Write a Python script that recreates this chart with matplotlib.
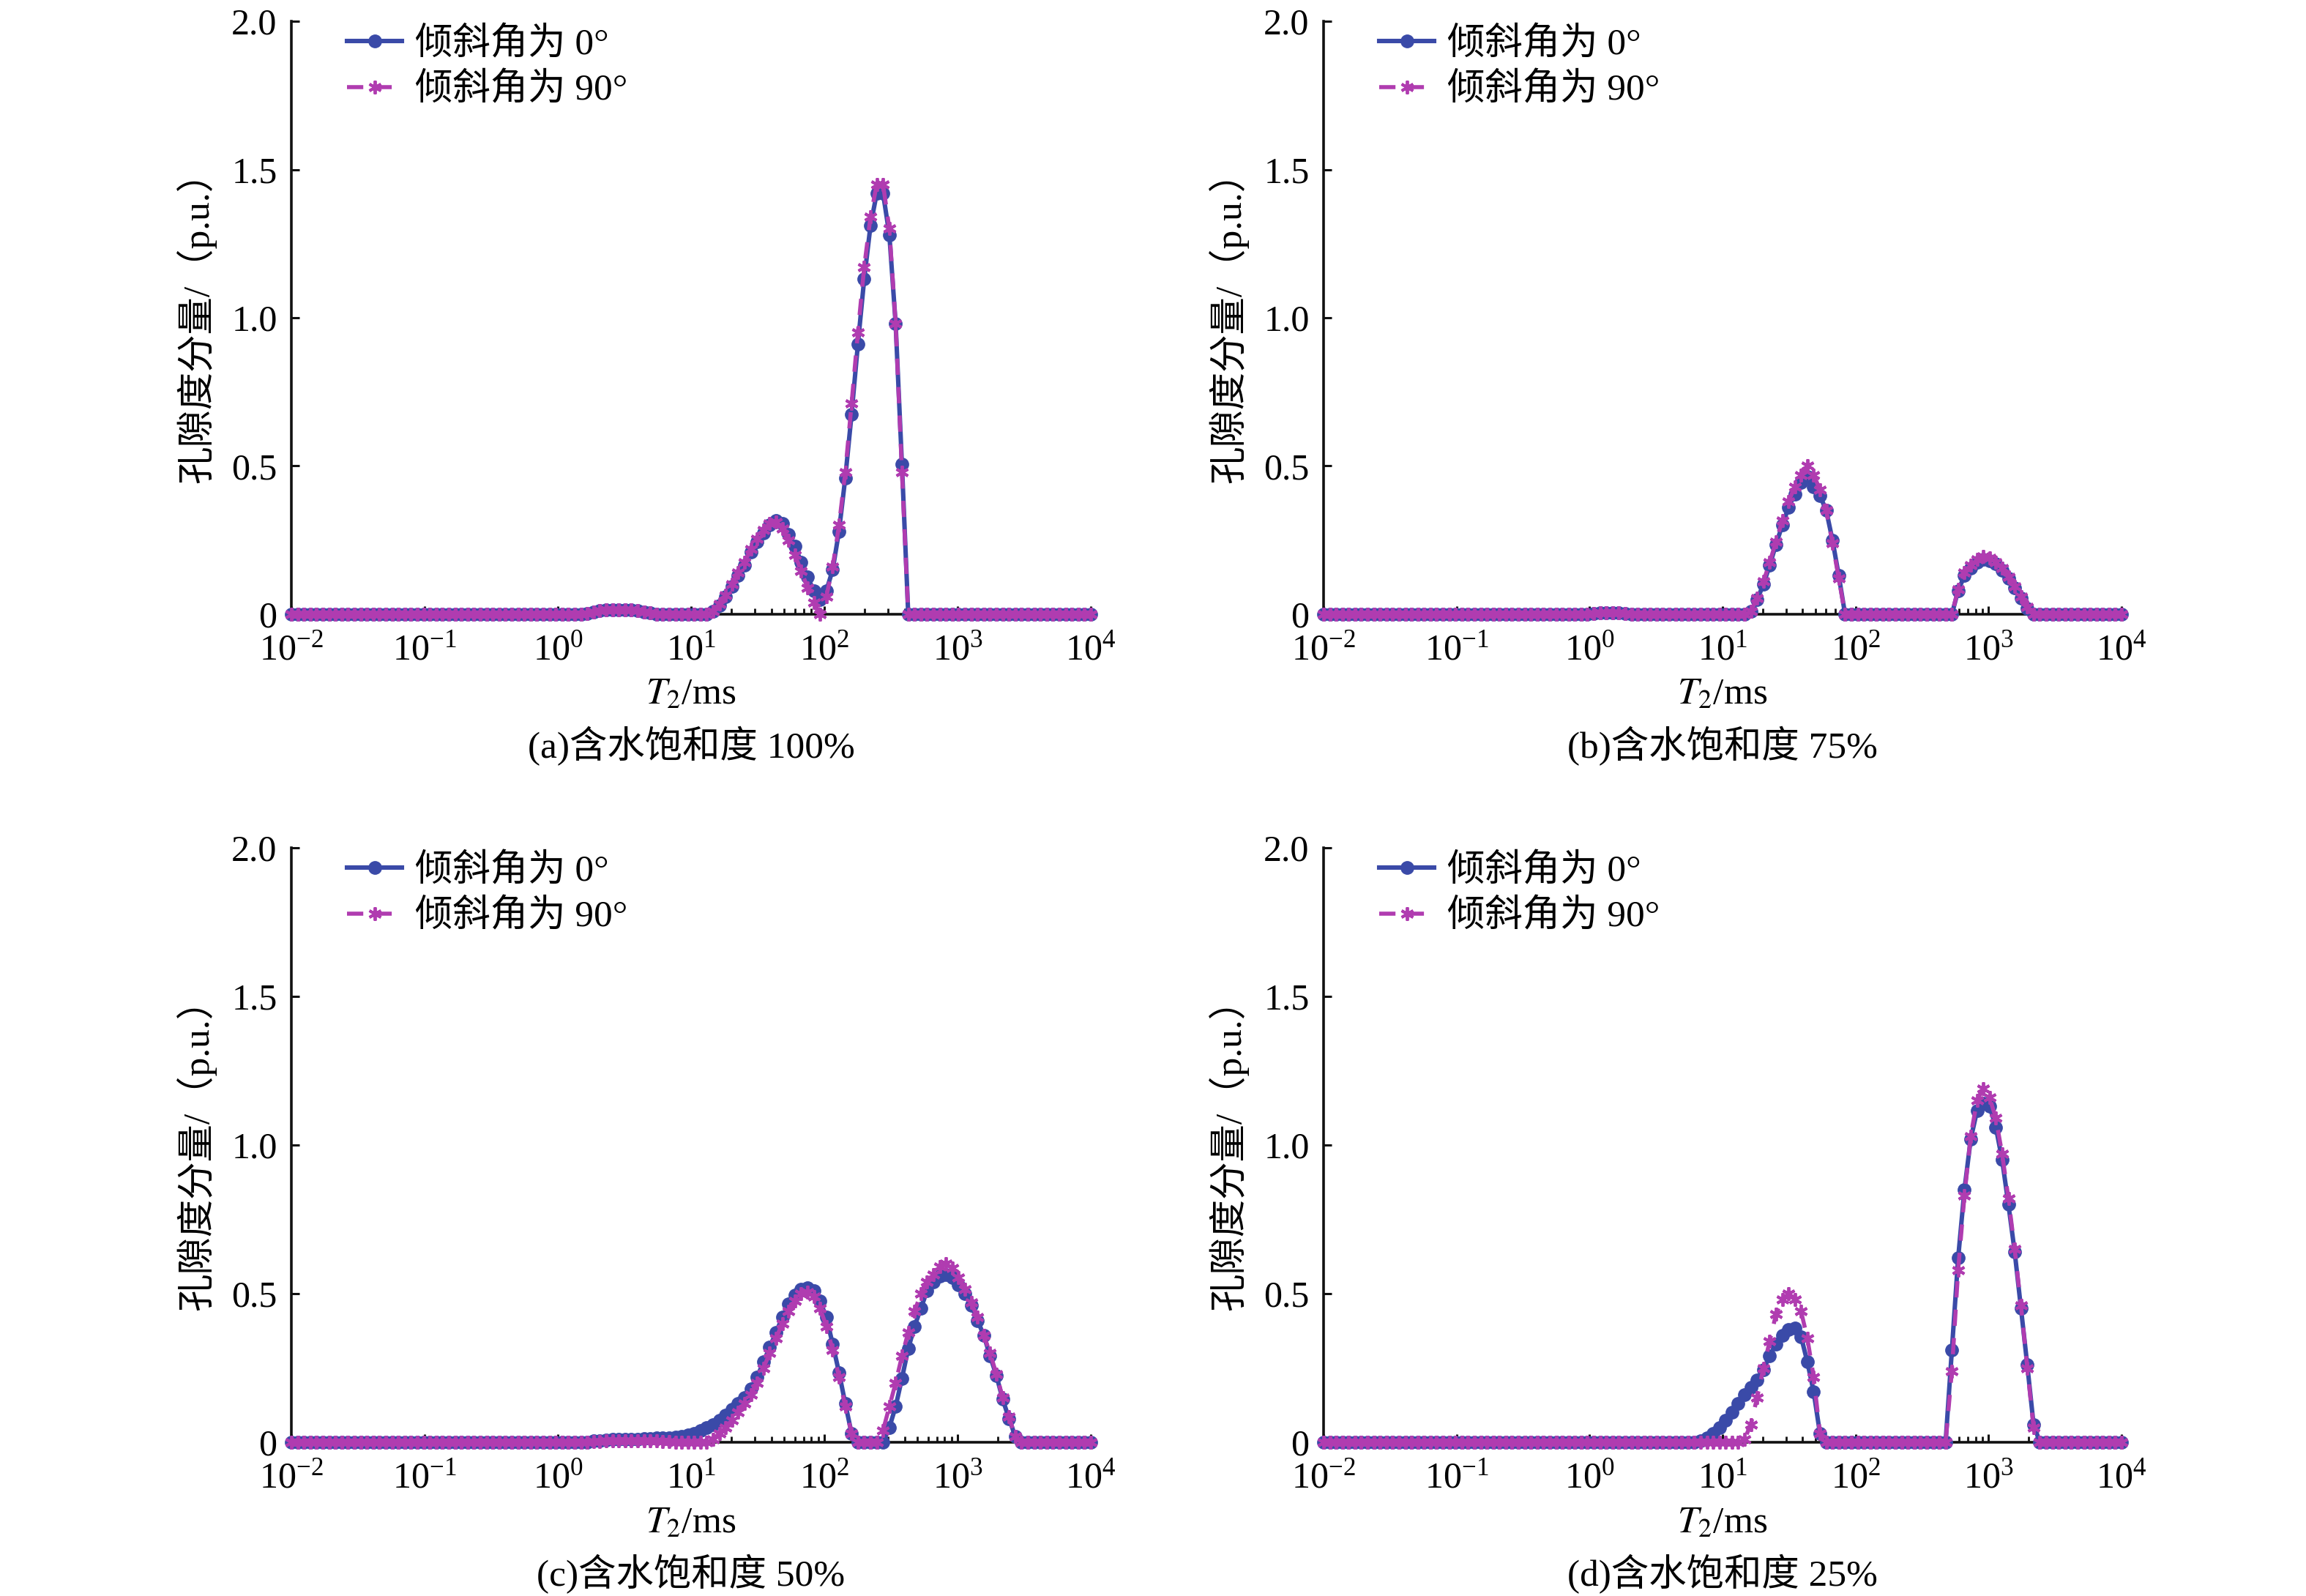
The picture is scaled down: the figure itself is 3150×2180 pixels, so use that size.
import matplotlib
matplotlib.use('Agg')
import matplotlib.pyplot as plt
import numpy as np
from matplotlib.ticker import LogLocator, LogFormatterMathtext, FixedLocator, FixedFormatter, NullFormatter

plt.rcParams['font.family'] = ['Liberation Serif', 'Noto Sans CJK SC']
plt.rcParams['mathtext.fontset'] = 'stix'
plt.rcParams['axes.unicode_minus'] = True

# DATA  (T2 grid of the instrument: 128 log-spaced points, 0.01 - 10000 ms)
N_PTS = 128
T2 = np.logspace(-2, 4, N_PTS)


def spread(segments):
    y = np.zeros(N_PTS)
    for start, vals in segments:
        y[start:start + len(vals)] = vals
    return y


# (a) 100 %
a_bump = [0.003, 0.008, 0.012, 0.014, 0.015, 0.015, 0.015, 0.014, 0.012, 0.008, 0.004]
a_0 = spread([(47, a_bump),
              (67, [0.01, 0.03, 0.06, 0.095, 0.13, 0.165, 0.21, 0.245, 0.275, 0.30, 0.315,
                    0.305, 0.27, 0.23, 0.175, 0.125, 0.08, 0.05, 0.08, 0.15, 0.28, 0.46,
                    0.675, 0.91, 1.13, 1.31, 1.42, 1.42, 1.28, 0.98, 0.505, 0.0])])
a_90 = spread([(47, a_bump),
               (67, [0.01, 0.035, 0.065, 0.10, 0.14, 0.175, 0.22, 0.255, 0.285, 0.305, 0.31,
                     0.29, 0.25, 0.20, 0.145, 0.09, 0.04, 0.0, 0.06, 0.16, 0.30, 0.48,
                     0.71, 0.95, 1.17, 1.34, 1.45, 1.45, 1.30, 0.98, 0.48, 0.0])])

# (b) 75 %
b_bump = [0.003, 0.005, 0.006, 0.006, 0.005, 0.003]
b_0 = spread([(43, b_bump),
              (68, [0.01, 0.05, 0.10, 0.165, 0.235, 0.30, 0.36, 0.405, 0.445, 0.465,
                    0.43, 0.40, 0.35, 0.25, 0.13, 0.0]),
              (100, [0.0, 0.08, 0.13, 0.155, 0.175, 0.185, 0.18, 0.17, 0.148, 0.12,
                     0.09, 0.055, 0.02, 0.0])])
b_90 = spread([(43, b_bump),
               (68, [0.01, 0.055, 0.11, 0.175, 0.245, 0.315, 0.38, 0.43, 0.47, 0.50,
                     0.47, 0.42, 0.35, 0.24, 0.12, 0.0]),
               (100, [0.0, 0.085, 0.14, 0.165, 0.185, 0.195, 0.19, 0.175, 0.155, 0.125,
                      0.095, 0.06, 0.025, 0.0])])

# (c) 50 %
c_0 = spread([(48, [0.004, 0.006, 0.008, 0.009, 0.01, 0.01, 0.01, 0.011, 0.012, 0.013,
                    0.014, 0.015, 0.016, 0.018]),
              (62, [0.02, 0.025, 0.03, 0.04, 0.05, 0.06, 0.075, 0.09, 0.11, 0.13, 0.15,
                    0.18, 0.22, 0.27, 0.32, 0.37, 0.42, 0.465, 0.495, 0.515, 0.52, 0.51,
                    0.475, 0.42, 0.33, 0.235, 0.13, 0.03, 0.0]),
              (94, [0.0, 0.05, 0.12, 0.215, 0.315, 0.39, 0.45, 0.51, 0.54, 0.56, 0.565,
                    0.555, 0.53, 0.50, 0.46, 0.41, 0.36, 0.29, 0.225, 0.145, 0.08, 0.02, 0.0])])
c_90 = spread([(48, [0.002, 0.003, 0.004, 0.005, 0.005, 0.005, 0.005, 0.005, 0.005, 0.005,
                     0.004, 0.003, 0.002, 0.001]),
               (66, [0.0, 0.01, 0.03, 0.05, 0.075, 0.10, 0.13, 0.16, 0.20, 0.25, 0.30,
                     0.35, 0.40, 0.44, 0.475, 0.50, 0.505, 0.49, 0.45, 0.39, 0.31, 0.22,
                     0.12, 0.03, 0.0]),
               (93, [0.0, 0.04, 0.12, 0.20, 0.29, 0.37, 0.44, 0.50, 0.54, 0.565, 0.59,
                     0.60, 0.585, 0.555, 0.515, 0.47, 0.42, 0.36, 0.30, 0.23, 0.15, 0.085,
                     0.02, 0.0])])

# (d) 25 %
d_0 = spread([(59, [0.0, 0.005, 0.015, 0.03, 0.05, 0.075, 0.10, 0.13, 0.16, 0.185, 0.21, 0.245,
                    0.29, 0.33, 0.36, 0.38, 0.385, 0.355, 0.27, 0.17, 0.03, 0.0]),
              (99, [0.0, 0.31, 0.62, 0.85, 1.02, 1.115, 1.14, 1.13, 1.06, 0.95, 0.80,
                    0.64, 0.45, 0.26, 0.06, 0.0])])
d_90 = spread([(66, [0.0, 0.01, 0.06, 0.15, 0.25, 0.34, 0.43, 0.48, 0.50, 0.48, 0.44,
                     0.35, 0.22, 0.03, 0.0]),
               (99, [0.0, 0.24, 0.58, 0.83, 1.03, 1.15, 1.19, 1.16, 1.09, 0.97, 0.82,
                     0.65, 0.46, 0.25, 0.05, 0.0])])

CAPTIONS = ['(a)含水饱和度 100%', '(b)含水饱和度 75%', '(c)含水饱和度 50%', '(d)含水饱和度 25%']
LEGEND_LABELS = ['倾斜角为 0°', '倾斜角为 90°']
Y_TICKS = [0, 0.5, 1.0, 1.5, 2.0]
Y_TICKLABELS = ['0', '0.5', '1.0', '1.5', '2.0']
SERIES = [(a_0, a_90), (b_0, b_90), (c_0, c_90), (d_0, d_90)]

# STYLE
C_BLUE = '#3a4aa8'
C_MAG = '#b03cb0'
FS = 37
FS_TICK = 36

# panel rectangles in figure fractions (left, bottom, width, height)
W, H = 3150, 2180
RECTS = [(398 / W, 1 - 839 / H, 1092 / W, 810 / H),
         (1808 / W, 1 - 839 / H, 1090 / W, 810 / H),
         (398 / W, 1 - 1970 / H, 1092 / W, 812 / H),
         (1808 / W, 1 - 1970 / H, 1090 / W, 812 / H)]

fig = plt.figure(figsize=(W / 100, H / 100), dpi=100)

for rect, (y0, y90), cap in zip(RECTS, SERIES, CAPTIONS):
    ax = fig.add_axes(rect)
    ax.plot(T2, y0, color=C_BLUE, lw=4.4, marker='o', ms=12.5, mec=C_BLUE, mfc=C_BLUE,
            clip_on=False, zorder=3, label=LEGEND_LABELS[0])
    ax.plot(T2, y90, color=C_MAG, lw=4.0, ls=(0, (4, 3)), marker=(6, 2, 0), ms=13,
            mew=2.8, mec=C_MAG, clip_on=False, zorder=4, label=LEGEND_LABELS[1])

    ax.set_xscale('log')
    ax.set_xlim(1e-2, 1e4)
    ax.set_ylim(0, 2.0)
    ax.xaxis.set_major_locator(LogLocator(base=10, numticks=10))
    ax.xaxis.set_major_formatter(LogFormatterMathtext())
    ax.xaxis.set_minor_locator(LogLocator(base=10, subs=np.arange(2, 10), numticks=10))
    ax.xaxis.set_minor_formatter(NullFormatter())
    ax.yaxis.set_major_locator(FixedLocator(Y_TICKS))
    ax.yaxis.set_major_formatter(FixedFormatter(Y_TICKLABELS))

    for s in ['top', 'right']:
        ax.spines[s].set_visible(False)
    for s in ['left', 'bottom']:
        ax.spines[s].set_linewidth(2.6)
        ax.spines[s].set_color('#111111')
    ax.tick_params(axis='both', which='major', direction='in', length=8, width=2.2,
                   labelsize=FS_TICK, color='#111111')
    ax.tick_params(axis='x', which='minor', direction='in', length=6, width=2.0,
                   color='#111111')
    ax.tick_params(axis='y', pad=14)
    ax.tick_params(axis='x', which='major', pad=19)

    ax.set_ylabel('孔隙度分量/（p.u.）', fontsize=FS)
    ax.yaxis.set_label_coords(-0.094, 0.5)
    ax.text(0.5, -0.136, '$T_2$/ms', transform=ax.transAxes, ha='center', va='center',
            fontsize=FS)
    ax.text(0.5, -0.222, cap, transform=ax.transAxes, ha='center', va='center', fontsize=FS)

    ax.legend(loc='upper left', bbox_to_anchor=(0.07, 0.99), frameon=False, fontsize=FS,
              handlelength=1.45, handletextpad=0.35, labelspacing=0.28, borderpad=0,
              borderaxespad=0)

fig.savefig('out.png', dpi=100)
